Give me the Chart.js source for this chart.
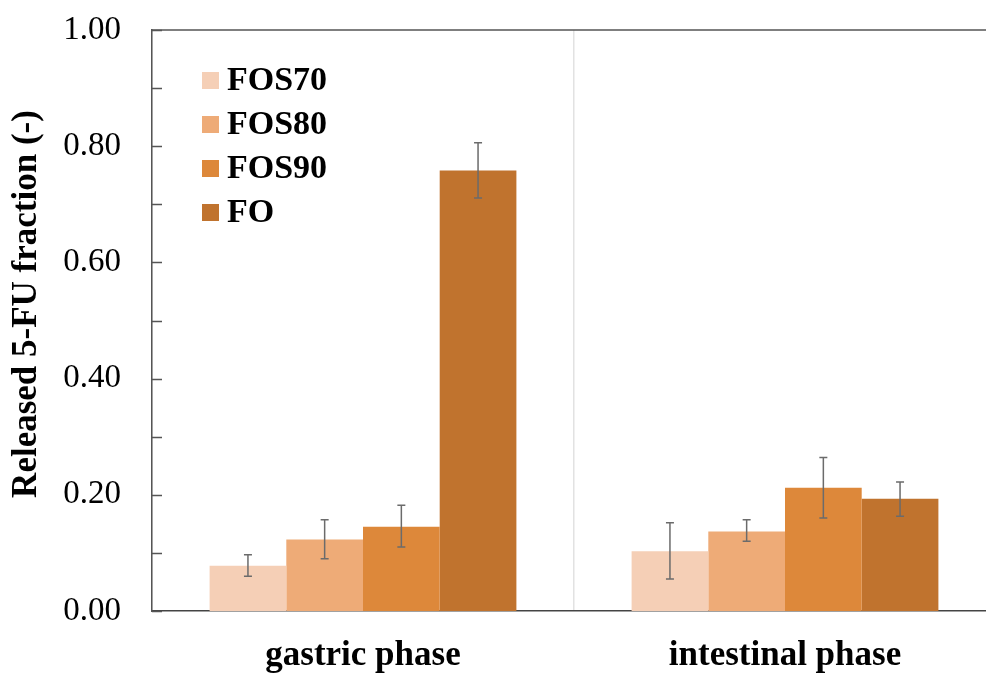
<!DOCTYPE html>
<html>
<head>
<meta charset="utf-8">
<script src="https://cdn.jsdelivr.net/npm/chart.js@4.4.1/dist/chart.umd.min.js"></script>
<style>
  html, body { margin: 0; padding: 0; background: #fff; overflow: hidden; }
  #wrap { width: 1000px; height: 673px; }
</style>
</head>
<body>
<div id="wrap"><canvas id="releaseChart" width="1000" height="673"></canvas></div>
<script>
// Released 5-FU fraction per digestion phase
const phases = ['gastric phase', 'intestinal phase'];
const seriesNames = ['FOS70', 'FOS80', 'FOS90', 'FO'];
const yTitle = 'Released 5-FU fraction (-)';

const fos70 = [0.078, 0.103];
const fos80 = [0.123, 0.137];
const fos90 = [0.145, 0.212];
const fo = [0.758, 0.193];

// error bar low / high values
const fos70Err = [[0.060, 0.097], [0.055, 0.152]];
const fos80Err = [[0.090, 0.157], [0.120, 0.157]];
const fos90Err = [[0.110, 0.182], [0.160, 0.264]];
const foErr = [[0.711, 0.806], [0.163, 0.222]];

const yTicks = [0, 0.2, 0.4, 0.6, 0.8, 1.0];
const yMinorTicks = [0.1, 0.3, 0.5, 0.7, 0.9];

const colors = ['#F5CFB6', '#EEAB77', '#DD883A', '#C0732E'];
const serif = "'Liberation Serif', 'Times New Roman', serif";

const errorBars = {
    id: 'errorBars',
    afterDatasetsDraw(chart) {
        const ctx = chart.ctx;
        const y = chart.scales.y;
        ctx.save();
        ctx.strokeStyle = '#6b6b6b';
        ctx.lineWidth = 1.5;
        chart.data.datasets.forEach((ds, i) => {
            const meta = chart.getDatasetMeta(i);
            meta.data.forEach((bar, j) => {
                const [lo, hi] = ds.errors[j];
                const yl = y.getPixelForValue(lo);
                const yh = y.getPixelForValue(hi);
                ctx.beginPath();
                ctx.moveTo(bar.x, yl); ctx.lineTo(bar.x, yh);
                ctx.moveTo(bar.x - 4, yl); ctx.lineTo(bar.x + 4, yl);
                ctx.moveTo(bar.x - 4, yh); ctx.lineTo(bar.x + 4, yh);
                ctx.stroke();
            });
        });
        ctx.restore();
    }
};

const frameAndTicks = {
    id: 'frameAndTicks',
    afterDraw(chart) {
        const ctx = chart.ctx;
        const area = chart.chartArea;
        const y = chart.scales.y;
        ctx.save();
        ctx.strokeStyle = '#555';
        ctx.lineWidth = 1.5;
        // top frame line
        ctx.beginPath();
        ctx.moveTo(area.left, area.top);
        ctx.lineTo(area.right, area.top);
        ctx.stroke();
        // inward ticks on y axis
        ctx.beginPath();
        yTicks.concat(yMinorTicks).forEach(v => {
            const py = Math.round(y.getPixelForValue(v)) + 0.5;
            ctx.moveTo(area.left, py);
            ctx.lineTo(area.left + 10, py);
        });
        ctx.stroke();
        // y axis title, sits a little above the axis centre like the original
        ctx.translate(27, 304);
        ctx.rotate(-Math.PI / 2);
        ctx.font = 'bold 35px ' + serif;
        ctx.fillStyle = '#000';
        ctx.textAlign = 'center';
        ctx.textBaseline = 'middle';
        ctx.fillText(yTitle, 0, 0);
        ctx.restore();
    }
};

const insideLegend = {
    id: 'insideLegend',
    afterDraw(chart) {
        const ctx = chart.ctx;
        ctx.save();
        ctx.font = 'bold 34px ' + serif;
        ctx.textBaseline = 'middle';
        ctx.fillStyle = '#000';
        chart.data.datasets.forEach((ds, i) => {
            const cy = 80 + i * 44;
            ctx.fillStyle = ds.backgroundColor;
            ctx.fillRect(202, cy - 8, 17, 17);
            ctx.fillStyle = '#000';
            ctx.fillText(ds.label, 227, cy + 1);
        });
        ctx.restore();
    }
};

const seriesValues = [fos70, fos80, fos90, fo];
const seriesErrors = [fos70Err, fos80Err, fos90Err, foErr];

new Chart(document.getElementById('releaseChart'), {
    type: 'bar',
    data: {
        labels: phases,
        datasets: seriesNames.map((name, i) => ({
            label: name,
            data: seriesValues[i],
            errors: seriesErrors[i],
            backgroundColor: colors[i],
            borderWidth: 0,
            categoryPercentage: 0.727,
            barPercentage: 1.0
        }))
    },
    options: {
        responsive: false,
        animation: false,
        layout: { padding: { top: 30, right: 4, left: 0, bottom: 0 } },
        plugins: {
            legend: { display: false },
            tooltip: { enabled: false }
        },
        scales: {
            x: {
                afterFit: scale => { scale.height = 62; },
                grid: { display: true, offset: true, color: '#e2e2e2', lineWidth: 1.5, drawTicks: false },
                border: { display: true, color: '#444', width: 1.5 },
                ticks: {
                    padding: 24,
                    color: '#000',
                    font: { family: serif, size: 35, weight: 'bold' }
                }
            },
            y: {
                min: 0,
                max: 1,
                afterFit: scale => {
                    scale.width = 152;
                    scale.paddingTop = 0;
                    scale.paddingBottom = 0;
                },
                afterBuildTicks: scale => { scale.ticks = yTicks.map(v => ({ value: v })); },
                grid: { display: false, drawTicks: false },
                border: { display: true, color: '#555', width: 1.5 },
                ticks: {
                    padding: 31,
                    color: '#000',
                    font: { family: serif, size: 33 },
                    callback: v => v.toFixed(2)
                },
                title: { display: false }
            }
        }
    },
    plugins: [errorBars, frameAndTicks, insideLegend]
});
</script>
</body>
</html>
